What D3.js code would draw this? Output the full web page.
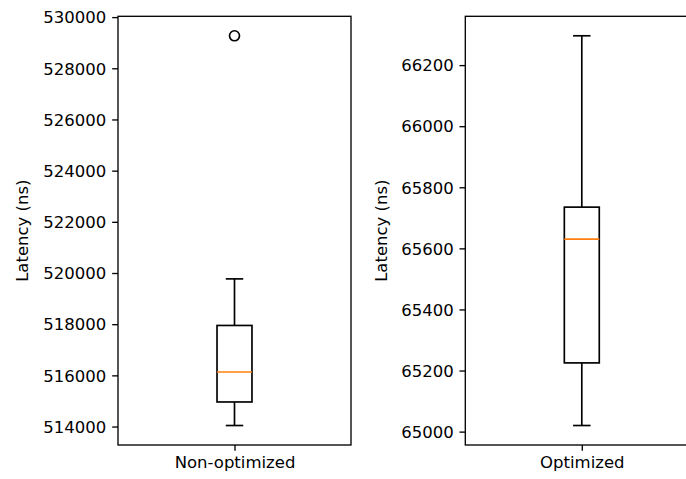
<!DOCTYPE html>
<html>
<head>
<meta charset="utf-8">
<script src="https://cdn.jsdelivr.net/npm/d3@7"></script>
<style>
  html, body { margin: 0; padding: 0; background: #fff; overflow: hidden; }
  text { font-family: "DejaVu Sans", sans-serif; fill: #000; }
</style>
</head>
<body>
<svg id="chart" width="686" height="479"></svg>
<script>
// ---- data ----
const categories = ["Non-optimized", "Optimized"];
const whiskerLow  = [514040, 65020];
const q1          = [514960, 65225];
const median      = [516130, 65630];
const q3          = [517950, 65735];
const whiskerHigh = [519770, 66296];
const outliers    = [[529270], []];
const yTicks = [
  [514000, 516000, 518000, 520000, 522000, 524000, 526000, 528000, 530000],
  [65000, 65200, 65400, 65600, 65800, 66000, 66200]
];
const yLabel = "Latency (ns)";

// ---- layout ----
const svg = d3.select("#chart");
const panels = [
  { left: 118, right: 351, labelX: 22 },
  { left: 465.3, right: 698.3, labelX: 381 }
];
const plotTop = 16.3, plotBottom = 445;
const fontSize = 16.5;
const tickLen = 5.83, pad = 5.83;
const spineW = 1.33, lineW = 1.67;

panels.forEach((p, i) => {
  const g = svg.append("g");
  const lo = Math.min(whiskerLow[i], ...outliers[i]);
  const hi = Math.max(whiskerHigh[i], ...outliers[i]);
  const m = (hi - lo) * 0.05;
  const y = d3.scaleLinear().domain([lo - m, hi + m]).range([plotBottom, plotTop]);
  const x = d3.scaleLinear().domain([0.5, 1.5]).range([p.left, p.right]);
  const boxW = 0.15, capW = boxW / 2;

  // whiskers
  g.append("line").attr("x1", x(1)).attr("x2", x(1))
    .attr("y1", y(whiskerLow[i])).attr("y2", y(q1[i]))
    .attr("stroke", "#000").attr("stroke-width", lineW);
  g.append("line").attr("x1", x(1)).attr("x2", x(1))
    .attr("y1", y(q3[i])).attr("y2", y(whiskerHigh[i]))
    .attr("stroke", "#000").attr("stroke-width", lineW);
  // caps
  [whiskerLow[i], whiskerHigh[i]].forEach(v => {
    g.append("line").attr("x1", x(1 - capW / 2)).attr("x2", x(1 + capW / 2))
      .attr("y1", y(v)).attr("y2", y(v))
      .attr("stroke", "#000").attr("stroke-width", lineW);
  });
  // box
  g.append("rect")
    .attr("x", x(1 - boxW / 2)).attr("width", x(1 + boxW / 2) - x(1 - boxW / 2))
    .attr("y", y(q3[i])).attr("height", y(q1[i]) - y(q3[i]))
    .attr("fill", "none").attr("stroke", "#000").attr("stroke-width", lineW);
  // median
  g.append("line").attr("x1", x(1 - boxW / 2)).attr("x2", x(1 + boxW / 2))
    .attr("y1", y(median[i])).attr("y2", y(median[i]))
    .attr("stroke", "#ff7f0e").attr("stroke-width", lineW);
  // outliers
  g.selectAll("circle.out").data(outliers[i]).enter().append("circle")
    .attr("cx", x(1)).attr("cy", d => y(d)).attr("r", 5)
    .attr("fill", "none").attr("stroke", "#000").attr("stroke-width", lineW);

  // frame
  g.append("rect").attr("x", p.left).attr("y", plotTop)
    .attr("width", p.right - p.left).attr("height", plotBottom - plotTop)
    .attr("fill", "none").attr("stroke", "#000").attr("stroke-width", spineW);

  // y axis
  const ya = d3.axisLeft(y).tickValues(yTicks[i]).tickFormat(d3.format("d"))
    .tickSize(tickLen).tickPadding(pad);
  const yg = g.append("g").attr("transform", `translate(${p.left},0)`).call(ya);
  yg.select(".domain").remove();
  yg.selectAll(".tick line").attr("stroke", "#000").attr("stroke-width", spineW);
  yg.selectAll(".tick text").attr("font-size", fontSize)
    .attr("font-family", "DejaVu Sans").attr("fill", "#000").attr("dy", "0.35em");

  // x axis
  const xa = d3.axisBottom(x).tickValues([1]).tickFormat(() => categories[i])
    .tickSize(tickLen).tickPadding(pad);
  const xg = g.append("g").attr("transform", `translate(0,${plotBottom})`).call(xa);
  xg.select(".domain").remove();
  xg.selectAll(".tick line").attr("stroke", "#000").attr("stroke-width", spineW);
  xg.selectAll(".tick text").attr("font-size", fontSize)
    .attr("font-family", "DejaVu Sans").attr("fill", "#000");

  // y label
  g.append("text")
    .attr("transform", `translate(${p.labelX},${(plotTop + plotBottom) / 2}) rotate(-90)`)
    .attr("text-anchor", "middle").attr("dominant-baseline", "central")
    .attr("font-size", fontSize).text(yLabel);
});
</script>
</body>
</html>
